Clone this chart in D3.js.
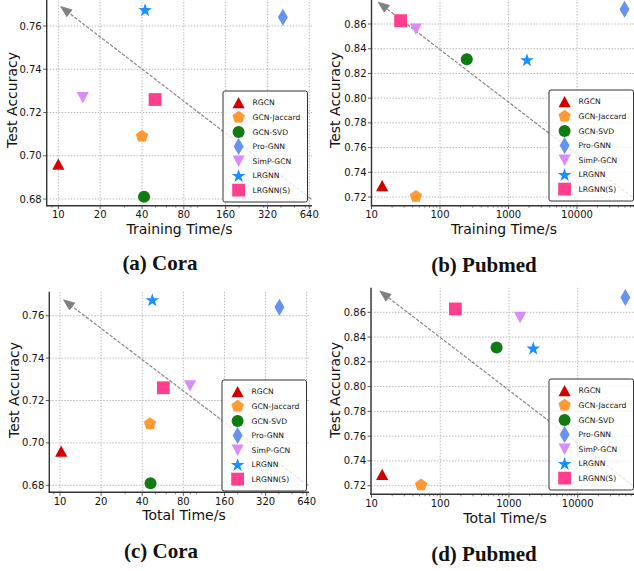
<!DOCTYPE html>
<head>
<meta charset="utf-8">
<script src="https://d3js.org/d3.v7.min.js"></script>
<style>
  body { margin:0; background:#fff; }
  svg { display:block; }
  text { font-family: "DejaVu Sans", sans-serif; fill:#111; }
  .caption { font-family: "Liberation Serif", serif; font-weight: bold; }
</style>
</head>
<body>
<div class="chart-container"></div>
<script>
// methods, in legend order
var methods = ["RGCN", "GCN-Jaccard", "GCN-SVD", "Pro-GNN", "SimP-GCN", "LRGNN", "LRGNN(S)"];
var markers = ["triUp", "pentagon", "circle", "diamond", "triDown", "star", "square"];
var colors  = ["#d40000", "#ff9933", "#107b10", "#6792f0", "#d98cf8", "#1a8fff", "#ff3f8e"];

// values
var coraAcc   = [0.696, 0.709, 0.681, 0.764, 0.727, 0.7675, 0.726];
var pubmedAcc = [0.729, 0.7205, 0.8315, 0.872, 0.856, 0.831, 0.8627];

var coraTrainTime   = [10, 40, 41.4, 413, 15.0, 42.1, 49.7];
var pubmedTrainTime = [14.3, 44.5, 246, 49400, 44.5, 1860, 26.6];
var coraTotalTime   = [10.2, 45.6, 46.0, 404, 89.6, 47.4, 57.1];
var pubmedTotalTime = [14.3, 52.7, 661, 49400, 1453, 2254, 166];

// tick labels
var coraTimeTicks   = [10, 20, 40, 80, 160, 320, 640];
var pubmedTimeTicks = [10, 100, 1000, 10000];
var coraAccTicks    = [0.68, 0.70, 0.72, 0.74, 0.76];
var pubmedAccTicks  = [0.72, 0.74, 0.76, 0.78, 0.80, 0.82, 0.84, 0.86];

// trend arrows: [tail, tip] in data units
var coraTrainArrow   = [[660, 0.68], [10.4, 0.769]];
var pubmedTrainArrow = [[64000, 0.72], [12.5, 0.8777]];
var coraTotalArrow   = [[650, 0.68], [10.6, 0.7675]];
var pubmedTotalArrow = [[64000, 0.72], [13.2, 0.8772]];

var panels = [
  { times: coraTrainTime, acc: coraAcc, xt: coraTimeTicks, yt: coraAccTicks, arrow: coraTrainArrow,
    xlabel: "Training Time/s", caption: "(a) Cora",
    xr: [58.3, 309.3], yr: [199, 26], box: {l: 46.7, r: 312, t: -4, b: 205.7},
    xlab: [179.5, 233.5], ylab: [11.7, 100], cap: [160, 270], leg: [223, 91] },
  { times: pubmedTrainTime, acc: pubmedAcc, xt: pubmedTimeTicks, yt: pubmedAccTicks, arrow: pubmedTrainArrow,
    xlabel: "Training Time/s", caption: "(b) Pubmed",
    xr: [371.5, 577], yr: [197, 24], box: {l: 371.5, r: 636, t: -4, b: 205.7},
    xlab: [504, 233.5], ylab: [335.5, 100], cap: [484, 272], leg: [549, 90] },
  { times: coraTotalTime, acc: coraAcc, xt: coraTimeTicks, yt: coraAccTicks, arrow: coraTotalArrow,
    xlabel: "Total Time/s", caption: "(c) Cora",
    xr: [60, 306.7], yr: [485.3, 315.7], box: {l: 49.3, r: 309, t: 291.7, b: 492.3},
    xlab: [184, 520], ylab: [14.5, 390], cap: [161, 558], leg: [222, 380] },
  { times: pubmedTotalTime, acc: pubmedAcc, xt: pubmedTimeTicks, yt: pubmedAccTicks, arrow: pubmedTotalArrow,
    xlabel: "Total Time/s", caption: "(d) Pubmed",
    xr: [371.5, 577.7], yr: [485.7, 312.3], box: {l: 371, r: 636, t: 287.7, b: 494.3},
    xlab: [505, 523], ylab: [335.5, 390], cap: [484, 561], leg: [549, 379] }
];

function poly(pts) { return "M" + pts.map(function(p) { return p[0].toFixed(2) + "," + p[1].toFixed(2); }).join("L") + "Z"; }
function regular(n, r, rot) {
  var pts = [];
  for (var i = 0; i < n; i++) { var a = rot + i * 2 * Math.PI / n; pts.push([r * Math.sin(a), -r * Math.cos(a)]); }
  return pts;
}
function markerPath(type) {
  switch (type) {
    case "triUp":   return poly([[0, -5.9], [6.1, 5.4], [-6.1, 5.4]]);
    case "triDown": return poly([[0, 5.9], [6.1, -5.4], [-6.1, -5.4]]);
    case "pentagon": return poly(regular(5, 6.5, 0));
    case "circle":  return "M6,0A6,6 0 1,1 -6,0A6,6 0 1,1 6,0Z";
    case "diamond": return poly([[0, -8.5], [5, 0], [0, 8.5], [-5, 0]]);
    case "star":
      var pts = [];
      for (var i = 0; i < 10; i++) {
        var rr = i % 2 ? 2.8 : 7.2, a = i * Math.PI / 5;
        pts.push([rr * Math.sin(a), -rr * Math.cos(a) + 0.6]);
      }
      return poly(pts);
    case "square":  return poly([[-6.4, -6.4], [6.4, -6.4], [6.4, 6.4], [-6.4, 6.4]]);
  }
}

var svg = d3.select(".chart-container").append("svg")
  .attr("width", 634)
  .attr("height", 571);

panels.forEach(function(p) {
  var x = d3.scaleLog().domain([p.xt[0], p.xt[p.xt.length - 1]]).range(p.xr);
  var y = d3.scaleLinear().domain([p.yt[0], p.yt[p.yt.length - 1]]).range(p.yr);
  var b = p.box;
  var g = svg.append("g");

  // grid
  g.selectAll(".vg").data(p.xt).enter().append("line")
    .attr("x1", function(d) { return x(d); }).attr("x2", function(d) { return x(d); })
    .attr("y1", b.t).attr("y2", b.b)
    .attr("stroke", "#aaa").attr("stroke-width", 0.8).attr("stroke-dasharray", "1.5,1.5");
  g.selectAll(".hg").data(p.yt).enter().append("line")
    .attr("x1", b.l).attr("x2", b.r)
    .attr("y1", function(d) { return y(d); }).attr("y2", function(d) { return y(d); })
    .attr("stroke", "#aaa").attr("stroke-width", 0.8).attr("stroke-dasharray", "1.5,1.5");

  // minor x ticks (base-10 positions)
  var xFull = x.copy().domain([x.invert(b.l), x.invert(b.r)]).range([b.l, b.r]);
  var minor = xFull.ticks().filter(function(d) { return p.xt.indexOf(d) < 0; });
  g.selectAll(".mt").data(minor).enter().append("line")
    .attr("x1", function(d) { return x(d); }).attr("x2", function(d) { return x(d); })
    .attr("y1", b.b).attr("y2", b.b + 2)
    .attr("stroke", "#333").attr("stroke-width", 0.6);

  // major ticks and labels
  g.selectAll(".xt").data(p.xt).enter().append("line")
    .attr("x1", function(d) { return x(d); }).attr("x2", function(d) { return x(d); })
    .attr("y1", b.b).attr("y2", b.b + 3.5)
    .attr("stroke", "#333").attr("stroke-width", 0.8);
  g.selectAll(".xl").data(p.xt).enter().append("text")
    .attr("x", function(d) { return x(d); }).attr("y", b.b + 12.6)
    .attr("text-anchor", "middle").attr("font-size", "10px")
    .text(function(d) { return d; });
  g.selectAll(".yt").data(p.yt).enter().append("line")
    .attr("x1", b.l - 3.5).attr("x2", b.l)
    .attr("y1", function(d) { return y(d); }).attr("y2", function(d) { return y(d); })
    .attr("stroke", "#333").attr("stroke-width", 0.8);
  g.selectAll(".yl").data(p.yt).enter().append("text")
    .attr("x", b.l - 5).attr("y", function(d) { return y(d); }).attr("dy", "0.35em")
    .attr("text-anchor", "end").attr("font-size", "10px")
    .text(function(d) { return d.toFixed(2); });

  // spines
  g.append("line").attr("x1", b.l).attr("x2", b.l).attr("y1", b.t).attr("y2", b.b + 0.6)
    .attr("stroke", "#333").attr("stroke-width", 1.4);
  g.append("line").attr("x1", b.l - 0.6).attr("x2", b.r).attr("y1", b.b).attr("y2", b.b)
    .attr("stroke", "#333").attr("stroke-width", 1.4);

  // trend arrow
  var p0 = [x(p.arrow[0][0]), y(p.arrow[0][1])], p1 = [x(p.arrow[1][0]), y(p.arrow[1][1])];
  var dx = p1[0] - p0[0], dy = p1[1] - p0[1], len = Math.sqrt(dx * dx + dy * dy);
  var ux = dx / len, uy = dy / len, hl = 11, hw = 4.3;
  var base = [p1[0] - ux * hl, p1[1] - uy * hl];
  g.append("line").attr("x1", p0[0]).attr("y1", p0[1]).attr("x2", base[0]).attr("y2", base[1])
    .attr("stroke", "#888").attr("stroke-width", 1.2).attr("stroke-dasharray", "3.5,1.5");
  g.append("path")
    .attr("d", poly([p1, [base[0] - uy * hw, base[1] + ux * hw], [base[0] + uy * hw, base[1] - ux * hw]]))
    .attr("fill", "#808080").attr("stroke", "#808080").attr("stroke-width", 0.8);

  // points
  g.selectAll(".pt").data(methods).enter().append("path")
    .attr("transform", function(d, i) { return "translate(" + x(p.times[i]) + "," + y(p.acc[i]) + ")"; })
    .attr("d", function(d, i) { return markerPath(markers[i]); })
    .attr("fill", function(d, i) { return colors[i]; });

  // legend (semi-transparent frame, arrow shows faintly through it)
  var lg = g.append("g").attr("transform", "translate(" + p.leg[0] + "," + p.leg[1] + ")");
  lg.append("rect").attr("width", 84.5).attr("height", 111).attr("rx", 2)
    .attr("fill", "#fff").attr("fill-opacity", 0.8).attr("stroke", "#333").attr("stroke-width", 1);
  methods.forEach(function(m, i) {
    var yy = 11.8 + i * 14.55;
    lg.append("path").attr("transform", "translate(15.6," + yy + ")")
      .attr("d", markerPath(markers[i])).attr("fill", colors[i]);
    lg.append("text").attr("x", 29.6).attr("y", yy).attr("dy", "0.35em")
      .attr("font-size", "7.6px").text(m);
  });

  // axis labels
  g.append("text").attr("x", p.xlab[0]).attr("y", p.xlab[1])
    .attr("text-anchor", "middle").attr("font-size", "14px").text(p.xlabel);
  g.append("text").attr("transform", "translate(" + p.ylab[0] + "," + p.ylab[1] + ") rotate(-90)")
    .attr("dy", "0.35em").attr("text-anchor", "middle").attr("font-size", "14px").text("Test Accuracy");

  // caption
  g.append("text").attr("class", "caption").attr("x", p.cap[0]).attr("y", p.cap[1])
    .attr("text-anchor", "middle").attr("font-size", "21px").text(p.caption);
});
</script>
</body>
